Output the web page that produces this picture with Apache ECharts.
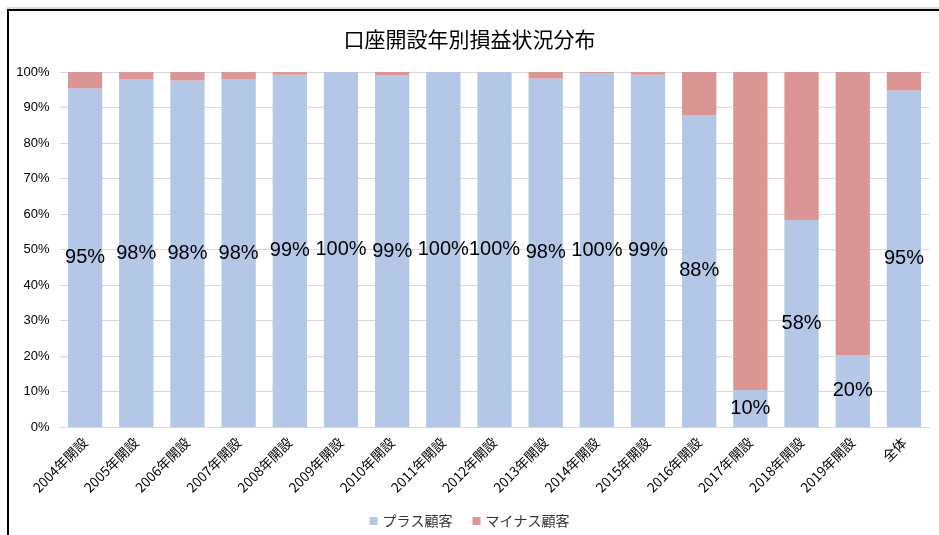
<!DOCTYPE html>
<html>
<head>
<meta charset="utf-8">
<script src="https://cdn.jsdelivr.net/npm/echarts@6/dist/echarts.min.js"></script>
<style>
html,body{margin:0;padding:0;background:#fff;}
#frame{position:absolute;left:7px;top:9px;width:932px;height:526px;border-left:2px solid #000;border-top:2px solid #000;box-shadow:0 -2px 0 #ddd;}
#chart{position:absolute;left:0;top:0;width:939px;height:535px;}
</style>
</head>
<body>
<div id="frame"></div>
<div id="chart"></div>
<script>
var categories = ['2004年開設','2005年開設','2006年開設','2007年開設','2008年開設','2009年開設','2010年開設','2011年開設','2012年開設','2013年開設','2014年開設','2015年開設','2016年開設','2017年開設','2018年開設','2019年開設','全体'];
var plusValues = [95.4, 97.9, 97.6, 97.9, 99.2, 100, 99.0, 100, 100, 98.2, 99.6, 99.2, 87.9, 10.4, 58.3, 20.3, 94.8];
var minusValues = [4.6, 2.1, 2.4, 2.1, 0.8, 0, 1.0, 0, 0, 1.8, 0.4, 0.8, 12.1, 89.6, 41.7, 79.7, 5.2];
var seriesNames = ['プラス顧客','マイナス顧客'];
var yTicks = [0,10,20,30,40,50,60,70,80,90,100];

var narrow = "'Liberation Sans',Arial,sans-serif";
var chart = echarts.init(document.getElementById('chart'), null, {renderer:'canvas'});
chart.setOption({
  animation:false,
  backgroundColor:'transparent',
  title:{text:'口座開設年別損益状況分布',left:'center',top:24,
    textStyle:{fontFamily:"'Noto Sans CJK JP',sans-serif",fontSize:21,fontWeight:'normal',color:'#000'}},
  legend:{data:seriesNames,bottom:2,left:'center',itemWidth:8,itemHeight:8,itemGap:20,icon:'rect',
    textStyle:{fontFamily:"'Noto Sans CJK JP',sans-serif",fontSize:14,color:'#333'}},
  grid:{left:59.5,right:9.5,top:72,bottom:108,containLabel:false},
  xAxis:{type:'category',data:categories,
    axisLine:{show:true,lineStyle:{color:'#d9d9d9',width:1}},
    axisTick:{show:false},
    axisLabel:{rotate:45,interval:0,color:'#000',fontSize:13.5,margin:13,fontFamily:"'Noto Sans CJK JP',"+narrow}},
  yAxis:{type:'value',min:yTicks[0],max:yTicks[yTicks.length-1],interval:10,
    axisLine:{show:false},axisTick:{show:false},
    splitLine:{lineStyle:{color:'#d9d9d9',width:1}},
    axisLabel:{formatter:'{value}%',color:'#000',fontSize:13,fontFamily:narrow,margin:10}},
  series:[
    {name:seriesNames[0],type:'bar',stack:'s',data:plusValues,barCategoryGap:'33%',
     itemStyle:{color:'#b4c7e7'},
     label:{show:true,position:'inside',color:'#000',fontSize:20,fontFamily:narrow,
       formatter:function(p){return Math.round(p.value)+'%';}}},
    {name:seriesNames[1],type:'bar',stack:'s',data:minusValues,barCategoryGap:'33%',
     itemStyle:{color:'#db9594'}}
  ]
});
</script>
</body>
</html>
